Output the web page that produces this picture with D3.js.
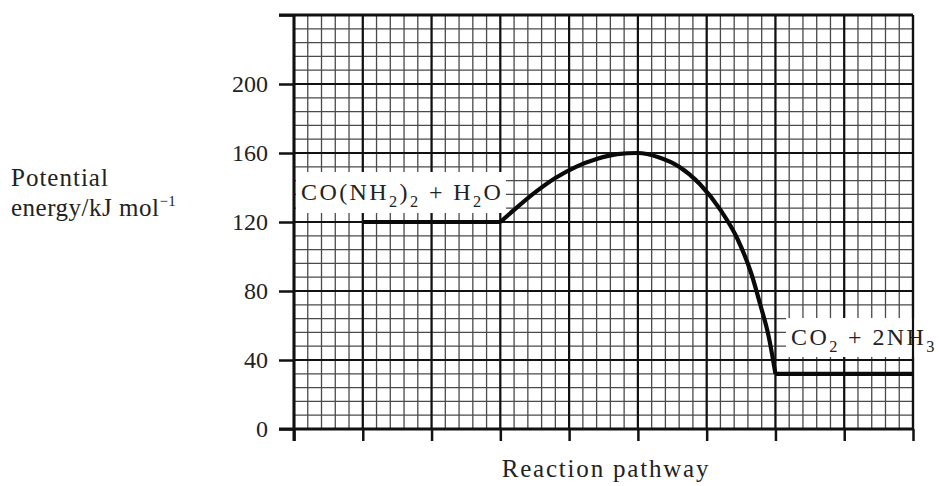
<!DOCTYPE html>
<html>
<head>
<meta charset="utf-8">
<script src="https://cdn.jsdelivr.net/npm/d3@7"></script>
<style>
  html, body { margin: 0; padding: 0; background: #fff; }
  svg { display: block; }
  text { font-family: "Liberation Serif", "DejaVu Serif", serif; fill: #222; }
</style>
</head>
<body>
<svg id="chart" width="939" height="486"></svg>
<script>
// ---- data ----
const yTickValues = [0, 40, 80, 120, 160, 200];
const xMajorValues = [0, 1, 2, 3, 4, 5, 6, 7, 8, 9];
const reactantLevel = { x0: 1, x1: 3, y: 120 };
const productLevel = { x0: 7, x1: 9, y: 32 };
const curveX = [3, 3.2, 3.5, 3.8, 4.1, 4.4, 4.7, 5.0, 5.3, 5.6, 5.9, 6.2, 6.45, 6.65, 6.78, 6.9, 7.0];
const curveY = [120, 127, 137, 145.5, 152, 156.5, 159.3, 160, 157.5, 152, 142, 127, 110, 90, 72, 54, 32];
const reactantLabel = ["CO(NH", "2", ")", "2", " + H", "2", "O"];
const productLabel = ["CO", "2", " + 2NH", "3"];

// ---- layout ----
const svg = d3.select("#chart");
const x = d3.scaleLinear().domain([0, 9]).range([294, 913]);
const y = d3.scaleLinear().domain([0, 240]).range([429, 15]);

// ---- grid ----
const g = svg.append("g");
const minorX = d3.range(0, 45 + 1).map(i => i * 0.2);
const minorY = d3.range(0, 30 + 1).map(i => i * 8);

g.selectAll("line.mx").data(minorX).join("line")
  .attr("x1", d => x(d)).attr("x2", d => x(d))
  .attr("y1", y(240)).attr("y2", y(0))
  .attr("stroke", "#4a4a4a").attr("stroke-width", 1.3);
g.selectAll("line.my").data(minorY).join("line")
  .attr("y1", d => y(d)).attr("y2", d => y(d))
  .attr("x1", x(0)).attr("x2", x(9))
  .attr("stroke", "#4a4a4a").attr("stroke-width", 1.3);

g.selectAll("line.Mx").data(xMajorValues).join("line")
  .attr("x1", d => x(d)).attr("x2", d => x(d))
  .attr("y1", y(240)).attr("y2", y(0))
  .attr("stroke", "#111").attr("stroke-width", 2.2);
g.selectAll("line.My").data(d3.range(0, 241, 40)).join("line")
  .attr("y1", d => y(d)).attr("y2", d => y(d))
  .attr("x1", x(0)).attr("x2", x(9))
  .attr("stroke", "#111").attr("stroke-width", 2.2);

// ---- labels with white background ----
function subText(parent, parts, px, py, size, ls) {
  const t = parent.append("text").attr("x", px).attr("y", py).attr("font-size", size)
    .attr("letter-spacing", ls);
  parts.forEach((p, i) => {
    const sub = i % 2 === 1;
    t.append("tspan")
      .attr("font-size", sub ? size * 0.68 : size)
      .attr("dy", sub ? size * 0.3 : (i > 0 ? -size * 0.3 : 0))
      .text(p);
  });
  return t;
}

const labelsG = svg.append("g");
labelsG.append("rect").attr("x", 296).attr("y", 172).attr("width", 210).attr("height", 41).attr("fill", "#fff");
labelsG.append("rect").attr("x", 786).attr("y", 318).attr("width", 153).attr("height", 39).attr("fill", "#fff");
subText(labelsG, reactantLabel, 301, 200, 24, 2.4);
subText(labelsG, productLabel, 791, 345, 24, 2.4);

// ---- axes ----
const axY = d3.axisLeft(y).tickValues(yTickValues.concat([240])).tickSize(15).tickPadding(11)
  .tickFormat(d => d === 240 ? "" : d);
const gy = svg.append("g").attr("transform", `translate(${x(0)},0)`).call(axY);
gy.select(".domain").remove();
gy.selectAll(".tick line").attr("stroke", "#111").attr("stroke-width", 2.5);
gy.selectAll(".tick text").attr("font-size", 24).attr("fill", "#222")
  .attr("font-family", "Liberation Serif, serif");

const axX = d3.axisBottom(x).tickValues(xMajorValues).tickSize(12).tickFormat("");
const gx = svg.append("g").attr("transform", `translate(0,${y(0)})`).call(axX);
gx.select(".domain").remove();
gx.selectAll(".tick line").attr("stroke", "#111").attr("stroke-width", 2.5);

// heavy frame lines
svg.append("line").attr("x1", x(0)).attr("x2", x(0)).attr("y1", y(240)).attr("y2", y(0) + 12)
  .attr("stroke", "#111").attr("stroke-width", 3);
svg.append("line").attr("x1", x(0) - 15).attr("x2", x(9)).attr("y1", y(0)).attr("y2", y(0))
  .attr("stroke", "#111").attr("stroke-width", 3.2);
svg.append("line").attr("x1", x(0) - 15).attr("x2", x(9)).attr("y1", y(240)).attr("y2", y(240))
  .attr("stroke", "#111").attr("stroke-width", 3);
svg.append("line").attr("x1", x(9)).attr("x2", x(9)).attr("y1", y(240)).attr("y2", y(0))
  .attr("stroke", "#111").attr("stroke-width", 2.2);

// ---- energy profile ----
const lineG = svg.append("g").attr("fill", "none").attr("stroke", "#0a0a0a")
  .attr("stroke-width", 4.2).attr("stroke-linejoin", "round").attr("stroke-linecap", "butt");
lineG.append("line")
  .attr("x1", x(reactantLevel.x0)).attr("x2", x(reactantLevel.x1))
  .attr("y1", y(reactantLevel.y)).attr("y2", y(reactantLevel.y));
lineG.append("line")
  .attr("x1", x(productLevel.x0)).attr("x2", x(productLevel.x1))
  .attr("y1", y(productLevel.y)).attr("y2", y(productLevel.y));
const pts = curveX.map((cx, i) => [cx, curveY[i]]);
lineG.append("path")
  .attr("d", d3.line().x(d => x(d[0])).y(d => y(d[1])).curve(d3.curveMonotoneX)(pts));

// ---- axis titles ----
svg.append("text").attr("x", 606).attr("y", 477).attr("text-anchor", "middle")
  .attr("font-size", 25).attr("letter-spacing", 1.8).text("Reaction pathway");
svg.append("text").attr("x", 11).attr("y", 186).attr("font-size", 25).attr("letter-spacing", 1)
  .text("Potential");
const yt = svg.append("text").attr("x", 11).attr("y", 216).attr("font-size", 25).attr("letter-spacing", 0.5);
yt.append("tspan").text("energy/kJ mol");
yt.append("tspan").attr("font-size", 15).attr("dy", -10).text("−1");
</script>
</body>
</html>
